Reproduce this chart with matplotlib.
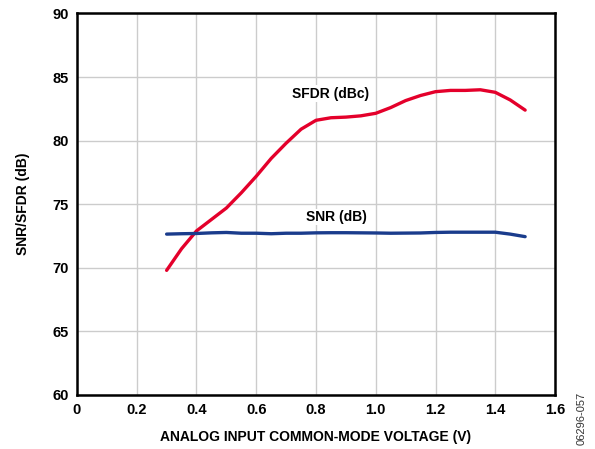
import matplotlib
matplotlib.use("Agg")
import matplotlib.pyplot as plt

plt.rcParams['font.family'] = ['Liberation Sans', 'DejaVu Sans']
plt.rcParams['font.weight'] = 'bold'

vcm = [0.3, 0.35, 0.4, 0.45, 0.5, 0.55, 0.6, 0.65, 0.7, 0.75, 0.8, 0.85, 0.9, 0.95, 1.0, 1.05, 1.1, 1.15, 1.2, 1.25, 1.3, 1.35, 1.4, 1.45, 1.5]
sfdr = [69.8, 71.5, 72.9, 73.8, 74.7, 75.9, 77.2, 78.6, 79.8, 80.9, 81.6, 81.8, 81.85, 81.95, 82.15, 82.6, 83.15, 83.55, 83.85, 83.95, 83.95, 84.0, 83.8, 83.2, 82.4]
snr = [72.65, 72.68, 72.7, 72.75, 72.78, 72.72, 72.72, 72.68, 72.72, 72.72, 72.75, 72.76, 72.76, 72.75, 72.74, 72.72, 72.73, 72.74, 72.78, 72.8, 72.8, 72.8, 72.8, 72.65, 72.45]

xticks = [0, 0.2, 0.4, 0.6, 0.8, 1.0, 1.2, 1.4, 1.6]
xticklabels = ['0', '0.2', '0.4', '0.6', '0.8', '1.0', '1.2', '1.4', '1.6']
yticks = [60, 65, 70, 75, 80, 85, 90]

fig = plt.figure(figsize=(5.95, 4.49), dpi=100)
ax = fig.add_axes([0.1294, 0.1203, 0.8034, 0.8497])
ax.plot(vcm, sfdr, color='#E4002B', lw=2.4, solid_capstyle='round')
ax.plot(vcm, snr, color='#1A3C8C', lw=2.4, solid_capstyle='round')
ax.set_xlim(0, 1.6)
ax.set_ylim(60, 90)
ax.set_xticks(xticks)
ax.set_xticklabels(xticklabels)
ax.set_yticks(yticks)
ax.grid(True, color='#CCCCCC', lw=1.0)
ax.set_axisbelow(True)
for s in ax.spines.values():
    s.set_linewidth(1.8)
    s.set_color('black')
ax.tick_params(length=0, labelsize=10.5, pad=6)
for lab in ax.get_xticklabels() + ax.get_yticklabels():
    lab.set_fontweight('bold')
ax.set_xlabel('ANALOG INPUT COMMON-MODE VOLTAGE (V)', fontsize=10, fontweight='bold', labelpad=9)
ax.set_ylabel('SNR/SFDR (dB)', fontsize=10, fontweight='bold', labelpad=16)
ax.text(0.85, 83.7, 'SFDR (dBc)', fontsize=10, fontweight='bold', ha='center', va='center',
        bbox=dict(facecolor='white', edgecolor='none', pad=1))
ax.text(0.87, 74.0, 'SNR (dB)', fontsize=10, fontweight='bold', ha='center', va='center',
        bbox=dict(facecolor='white', edgecolor='none', pad=1))
fig.text(0.978, 0.068, '06296-057', rotation=90, fontsize=8, fontweight='normal', ha='center', va='center', color='#333333')
fig.savefig('out.png', dpi=100)
